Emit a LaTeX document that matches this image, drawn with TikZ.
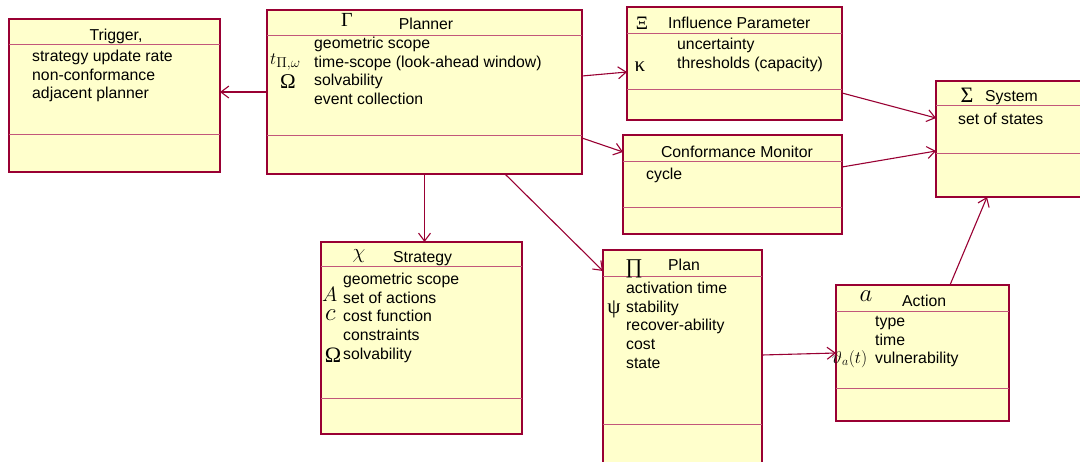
\documentclass[tikz,border=0pt]{standalone}
\usepackage{fontspec}
\setmainfont{Liberation Sans}
\newfontfamily\grk{Liberation Serif}
\usetikzlibrary{arrows.meta,calc}

\definecolor{umlline}{HTML}{990033}
\definecolor{umlfill}{HTML}{FFFFCC}
\definecolor{umlsep}{HTML}{C2577A}

\tikzset{
  classbox/.style={draw=umlline, fill=umlfill, line width=1.4pt, rectangle,
    inner sep=0pt, outer sep=0pt, anchor=north west},
  sepline/.style={draw=umlsep, line width=0.9pt},
  assoc/.style={draw=umlline, line width=1.1pt,
    -{Straight Barb[length=8pt,width=12pt,line width=1.1pt]}},
  title/.style={inner sep=0pt, font=\fontsize{15.8}{19}\selectfont},
  attrs/.style={inner sep=0pt, anchor=north west, align=left,
    font=\fontsize{15.8}{18.8}\selectfont},
  sym/.style={inner sep=0pt, anchor=base},
}

\begin{document}
\begin{tikzpicture}[x=1pt,y=-1pt]
\path[fill=white,use as bounding box] (0,0) rectangle (1080,461);
\clip (0,0) rectangle (1080,461);

% ---------- class boxes ----------
\node[classbox, minimum width=211pt, minimum height=153pt] (trigger)  at (9,19)   {};
\node[classbox, minimum width=315pt, minimum height=164pt] (planner)  at (267,10) {};
\node[classbox, minimum width=215pt, minimum height=113pt] (infl)     at (627,7)  {};
\node[classbox, minimum width=219pt, minimum height=99pt]  (conf)     at (623,135){};
\node[classbox, minimum width=160pt, minimum height=116pt] (system)   at (936,81) {};
\node[classbox, minimum width=201pt, minimum height=192pt] (strategy) at (321,242){};
\node[classbox, minimum width=159pt, minimum height=230pt] (plan)     at (603,250){};
\node[classbox, minimum width=173pt, minimum height=136pt] (action)   at (836,285){};

% compartment separators
\foreach \b/\a/\c in {trigger/25/115, planner/25/125, infl/26/82, conf/26/72,
                      system/24/72, strategy/24/156, plan/26/174, action/26/103}{
  \draw[sepline] ($(\b.north west)+(0,\a)$) -- ($(\b.north east)+(0,\a)$);
  \draw[sepline] ($(\b.north west)+(0,\c)$) -- ($(\b.north east)+(0,\c)$);
}

% ---------- Trigger ----------
\node[title, anchor=base] (triggerT) at (116,40) {Trigger,};
\node[attrs] (triggerA) at (32,48) {\strut strategy update rate\\\strut non-conformance\\\strut adjacent planner};

% ---------- Planner ----------
\node[sym, font=\grk\fontsize{20}{20}\selectfont] (plannerS) at (347,26) {Γ};
\node[title, anchor=base] (plannerT) at (426,29) {Planner};
\node[attrs] (plannerA) at (314,35) {\strut geometric scope\\\strut time-scope (look-ahead window)\\\strut solvability\\\strut event collection};
\node[inner sep=0pt, anchor=base west, font=\fontsize{19}{19}\selectfont] (plannerT1) at (270,64) {$t_{\Pi,\omega}$};
\node[sym, font=\grk\fontsize{21}{21}\selectfont] (plannerO) at (288,88) {Ω};

% ---------- Influence Parameter ----------
\node[sym, font=\grk\fontsize{19}{19}\selectfont] (inflS) at (642,29) {Ξ};
\node[title, anchor=base west] (inflT) at (668,28) {Influence Parameter};
\node[attrs] (inflA) at (677,36) {\strut uncertainty\\\strut thresholds (capacity)};
\node[sym, font=\grk\fontsize{21}{21}\selectfont] (inflK) at (640,71) {κ};

% ---------- Conformance Monitor ----------
\node[title, anchor=base] (confT) at (737,157) {Conformance Monitor};
\node[attrs] (confA) at (646,166) {\strut cycle};

% ---------- System ----------
\node[sym, font=\grk\fontsize{22}{22}\selectfont] (systemS) at (967,102) {Σ};
\node[title, anchor=base west] (systemT) at (985,101) {System};
\node[attrs] (systemA) at (958,111) {\strut set of states};

% ---------- Strategy ----------
\node[sym, font=\fontsize{22}{22}\selectfont] (strategyS) at (359,258) {$\chi$};
\node[title, anchor=base west] (strategyT) at (393,262) {Strategy};
\node[attrs] (strategyA) at (343,271) {\strut geometric scope\\\strut set of actions\\\strut cost function\\\strut constraints\\\strut solvability};
\node[inner sep=0pt, anchor=base west, font=\fontsize{20}{20}\selectfont] (strategyAs) at (322,301) {$A$};
\node[inner sep=0pt, anchor=base west, font=\fontsize{24}{24}\selectfont] (strategyC) at (325,320) {$c$};
\node[sym, font=\grk\fontsize{22}{22}\selectfont] (strategyO) at (333,362) {Ω};

% ---------- Plan ----------
\node[sym, font=\grk\fontsize{21}{21}\selectfont] (planS) at (634,273) {∏};
\node[title, anchor=base west] (planT) at (668,270) {Plan};
\node[attrs] (planA) at (626,280) {\strut activation time\\\strut stability\\\strut recover-ability\\\strut cost\\\strut state};
\node[sym, font=\grk\fontsize{21}{21}\selectfont] (planP) at (614,313) {ψ};

% ---------- Action ----------
\node[inner sep=0pt, anchor=base, font=\fontsize{25}{25}\selectfont] (actionS) at (866,301) {$a$};
\node[title, anchor=base west] (actionT) at (902,306) {Action};
\node[attrs] (actionA) at (875,313) {\strut type\\\strut time\\\strut vulnerability};
\node[inner sep=0pt, anchor=base west, font=\fontsize{18}{18}\selectfont] (actionV) at (832,363) {$\vartheta_a(t)$};

% ---------- associations ----------
\draw[assoc] (planner.west) -- (planner.west -| trigger.east);
\draw[assoc] ($(planner.north east)+(0,66)$) -- ($(infl.north west)+(0,65)$);
\draw[assoc] ($(planner.north east)+(0,128)$) -- ($(conf.north west)+(0,17)$);
\draw[assoc] (planner.south) -- (planner.south |- strategy.north);
\draw[assoc] ($(planner.south west)+(238,0)$) -- ($(plan.north west)+(0,21)$);
\draw[assoc] ($(plan.north east)+(0,105)$) -- ($(action.north west)+(0,68)$);
\draw[assoc] ($(infl.north east)+(0,86)$) -- ($(system.north west)+(0,37)$);
\draw[assoc] ($(conf.north east)+(0,32)$) -- ($(system.north west)+(0,70)$);
\draw[assoc] ($(action.north west)+(114,0)$) -- ($(system.south west)+(51,0)$);
\end{tikzpicture}
\end{document}
